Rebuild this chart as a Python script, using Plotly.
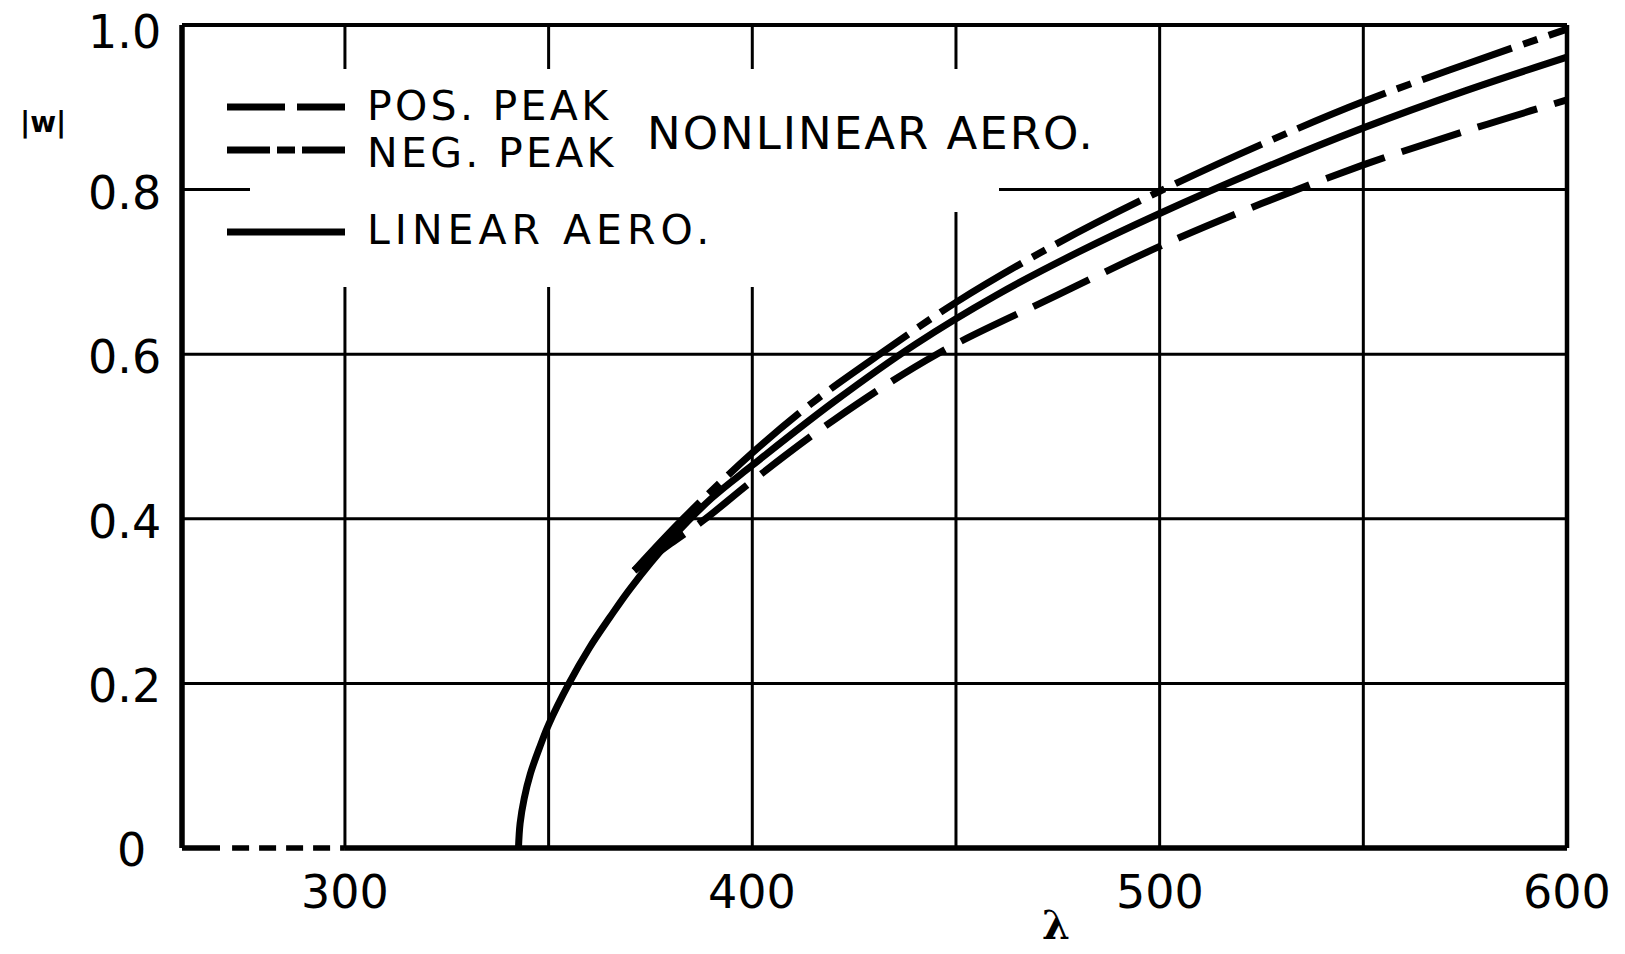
import plotly.graph_objects as go

# Flutter amplitude |w| versus dynamic-pressure parameter lambda
lin_lam = [342.6, 343.0, 344.0, 345.5, 348, 350, 355, 360, 365, 370, 380, 390,
           400, 420, 440, 460, 480, 500, 525, 550, 575, 600]
lin_w = [0, 0.03, 0.06, 0.09, 0.125, 0.15, 0.2, 0.243, 0.28, 0.315, 0.375, 0.425,
         0.465, 0.542, 0.612, 0.672, 0.724, 0.771, 0.825, 0.875, 0.92, 0.961]

pos_lam = [371, 380, 388.5, 400, 420, 445.3, 475, 500, 525, 550, 575, 600]
pos_w = [0.337, 0.37, 0.4, 0.446, 0.52, 0.6, 0.672, 0.731, 0.783, 0.83, 0.871, 0.909]

neg_lam = [371, 383, 400, 415, 431.3, 450, 475, 500, 525, 550, 575, 600]
neg_w = [0.337, 0.4, 0.48, 0.542, 0.6, 0.663, 0.735, 0.798, 0.855, 0.907, 0.952, 0.995]

# undisturbed (zero amplitude) branch below the flutter boundary
zero_lam = [272.3, 300]
zero_w = [0, 0]

x_ticks = [300, 400, 500, 600]
x_grid = [300, 350, 400, 450, 500, 550]
y_ticks = [0.2, 0.4, 0.6, 0.8, 1.0]
y_grid = [0.2, 0.4, 0.6, 0.8]

X_MIN, X_MAX = 260, 600
Y_MIN, Y_MAX = 0.0, 1.0

# page-pixel geometry of the drawn frame
W, H = 1625, 954
FL, FR, FT, FB = 182, 1567, 25, 848
PAD = 8
sx = (FR - FL) / (X_MAX - X_MIN)
sy = (FB - FT) / (Y_MAX - Y_MIN)
PL, PR, PT, PB = FL - PAD, FR + PAD, FT - PAD, FB + PAD  # plotting area


def dx(px):
    return X_MIN + (px - FL) / sx


def dy(py):
    return Y_MIN + (FB - py) / sy


def paper_x(px):
    return (px - PL) / (PR - PL)


def paper_y(py):
    return (PB - py) / (PB - PT)


def spaced(txt, px):
    return f'<span style="letter-spacing:{px}px">{txt}</span>'


INK = "black"
FONT = "DejaVu Sans"

fig = go.Figure()

curve_w = 7
fig.add_trace(go.Scatter(x=pos_lam, y=pos_w, mode="lines", line_shape="spline",
                         line=dict(color=INK, width=curve_w, dash="62px,18px"),
                         name="POS. PEAK"))
fig.add_trace(go.Scatter(x=neg_lam, y=neg_w, mode="lines", line_shape="spline",
                         line=dict(color=INK, width=curve_w, dash="95px,12px,15px,12px"),
                         name="NEG. PEAK"))
fig.add_trace(go.Scatter(x=lin_lam, y=lin_w, mode="lines", line_shape="spline",
                         line=dict(color=INK, width=curve_w), name="LINEAR AERO."))
fig.add_trace(go.Scatter(x=zero_lam, y=zero_w, mode="lines",
                         line=dict(color=INK, width=5.5, dash="17px,10px"),
                         name="zero branch"))

shapes = []
grid_w = 3
# grid lines
for gx in x_grid:
    shapes.append(dict(type="line", xref="x", yref="y", x0=gx, x1=gx, y0=Y_MIN, y1=Y_MAX,
                       line=dict(color=INK, width=grid_w), layer="below"))
for gy in y_grid:
    shapes.append(dict(type="line", xref="x", yref="y", x0=X_MIN, x1=X_MAX, y0=gy, y1=gy,
                       line=dict(color=INK, width=grid_w), layer="below"))
# blank area behind the key
shapes.append(dict(type="rect", xref="x", yref="y", x0=dx(250), x1=dx(999), y0=dy(212), y1=dy(69),
                   fillcolor="white", line=dict(width=0), layer="below"))
shapes.append(dict(type="rect", xref="x", yref="y", x0=dx(250), x1=dx(770), y0=dy(287), y1=dy(69),
                   fillcolor="white", line=dict(width=0), layer="below"))

# frame
frame = dict(color=INK, width=5.5)
shapes += [
    dict(type="line", xref="x", yref="y", x0=X_MIN, x1=X_MIN, y0=Y_MIN, y1=Y_MAX, line=frame),
    dict(type="line", xref="x", yref="y", x0=X_MIN, x1=X_MAX, y0=Y_MAX, y1=Y_MAX, line=dict(color=INK, width=4)),
    dict(type="line", xref="x", yref="y", x0=X_MAX, x1=X_MAX, y0=Y_MIN, y1=Y_MAX, line=dict(color=INK, width=4.5)),
    dict(type="line", xref="x", yref="y", x0=300, x1=X_MAX, y0=Y_MIN, y1=Y_MIN, line=frame),
    dict(type="line", xref="x", yref="y", x0=X_MIN, x1=dx(220), y0=Y_MIN, y1=Y_MIN, line=frame),
]

# key samples
key_w = 7
shapes += [
    dict(type="line", xref="x", yref="y", x0=dx(227), x1=dx(345), y0=dy(107), y1=dy(107),
         line=dict(color=INK, width=key_w, dash="58px,12px")),
    dict(type="line", xref="x", yref="y", x0=dx(227), x1=dx(345), y0=dy(150), y1=dy(150),
         line=dict(color=INK, width=key_w, dash="43px,7px,18px,7px")),
    dict(type="line", xref="x", yref="y", x0=dx(227), x1=dx(345), y0=dy(232), y1=dy(232),
         line=dict(color=INK, width=key_w)),
]

ann = []
key_font = dict(family=FONT, size=41, color=INK)
for txt, py, ls in [("POS. PEAK", 106, 3.3), ("NEG. PEAK", 153, 3.3), ("LINEAR AERO.", 230, 5)]:
    ann.append(dict(x=dx(365), y=dy(py), xref="x", yref="y", text=spaced(txt, ls), showarrow=False,
                    xanchor="left", yanchor="middle", font=key_font))
ann.append(dict(x=dx(645), y=dy(133), xref="x", yref="y", text=spaced("NONLINEAR AERO.", 2),
                showarrow=False, xanchor="left", yanchor="middle",
                font=dict(family=FONT, size=45, color=INK)))

tick_font = dict(family=FONT, size=46, color=INK)
for t in x_ticks:
    ann.append(dict(x=t, y=Y_MIN, xref="x", yref="y", text=str(t), showarrow=False,
                    xanchor="center", yanchor="middle", yshift=-44, font=tick_font))
for t in y_ticks:
    ann.append(dict(x=X_MIN, y=t, xref="x", yref="y", text=f"{t:.1f}", showarrow=False,
                    xanchor="right", yanchor="middle", xshift=-19,
                    yshift=-7 if t == Y_MAX else -3, font=tick_font))
ann.append(dict(x=X_MIN, y=Y_MIN, xref="x", yref="y", text="0", showarrow=False,
                xanchor="center", yanchor="middle", xshift=-51, yshift=-2, font=tick_font))

ann.append(dict(x=paper_x(43), y=paper_y(122), xref="paper", yref="paper", text="|w|",
                showarrow=False, xanchor="center", yanchor="middle",
                font=dict(family=FONT, size=28, color=INK, weight="bold")))
ann.append(dict(x=paper_x(1056), y=paper_y(924), xref="paper", yref="paper", text="λ",
                showarrow=False, xanchor="center", yanchor="middle",
                font=dict(family="DejaVu Serif", size=40, color=INK, weight="bold")))

fig.update_layout(
    width=W, height=H,
    margin=dict(l=PL, r=W - PR, t=PT, b=H - PB, pad=0),
    paper_bgcolor="white", plot_bgcolor="white",
    showlegend=False,
    shapes=shapes, annotations=ann,
    xaxis=dict(range=[dx(PL), dx(PR)], showgrid=False, zeroline=False,
               showticklabels=False, ticks="", showline=False, fixedrange=True),
    yaxis=dict(range=[dy(PB), dy(PT)], showgrid=False, zeroline=False,
               showticklabels=False, ticks="", showline=False, fixedrange=True),
)

fig.write_html("out.html", config={"displayModeBar": False})
